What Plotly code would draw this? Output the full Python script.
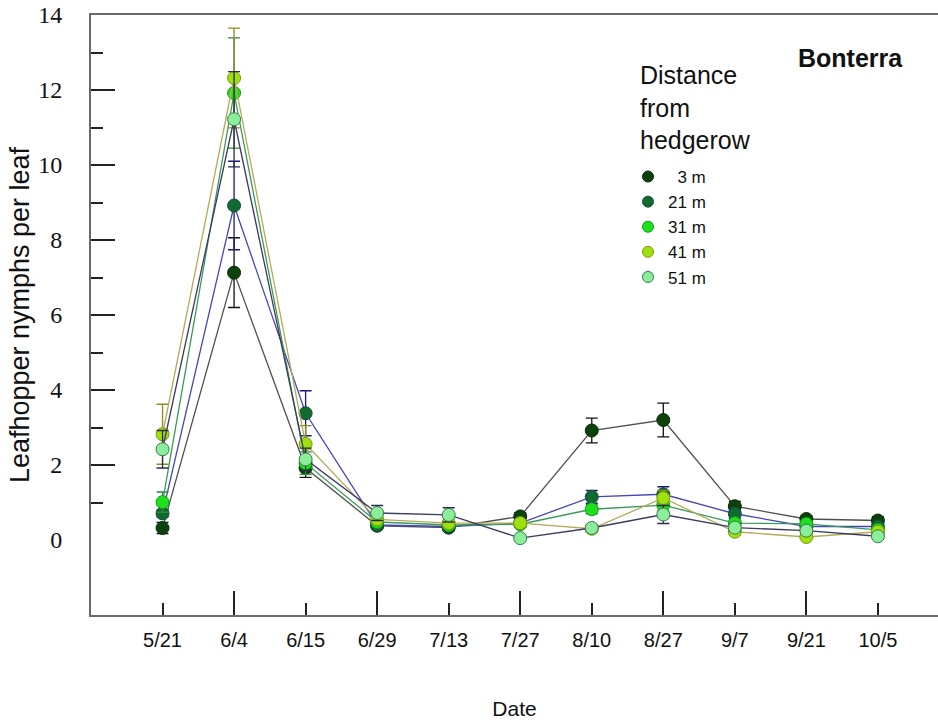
import plotly.graph_objects as go

# Sampling dates (categorical positions along the x axis)
dates = ["5/21", "6/4", "6/15", "6/29", "7/13", "7/27", "8/10", "8/27", "9/7", "9/21", "10/5"]
positions = list(range(len(dates)))

# Mean leafhopper nymphs per leaf at each distance from the hedgerow
names = ["\u00a0\u00a03 m", "21 m", "31 m", "41 m", "51 m"]
mean_3m = [0.32, 7.13, 1.92, 0.38, 0.33, 0.63, 2.92, 3.20, 0.90, 0.56, 0.52]
mean_21m = [0.71, 8.92, 3.38, 0.40, 0.36, 0.45, 1.15, 1.22, 0.70, 0.36, 0.36]
mean_31m = [1.01, 11.92, 2.05, 0.48, 0.40, 0.42, 0.82, 0.93, 0.45, 0.43, 0.27]
mean_41m = [2.82, 12.32, 2.56, 0.55, 0.45, 0.45, 0.30, 1.12, 0.22, 0.08, 0.22]
mean_51m = [2.42, 11.22, 2.15, 0.72, 0.67, 0.05, 0.32, 0.68, 0.33, 0.25, 0.10]

# Standard errors
se_3m = [0.15, 0.93, 0.25, 0.08, 0.08, 0.10, 0.33, 0.45, 0.13, 0.08, 0.10]
se_21m = [0.10, 1.18, 0.60, 0.08, 0.08, 0.08, 0.17, 0.20, 0.12, 0.08, 0.08]
se_31m = [0.27, 1.47, 0.30, 0.08, 0.08, 0.08, 0.12, 0.15, 0.08, 0.08, 0.08]
se_41m = [0.80, 1.33, 0.49, 0.10, 0.08, 0.08, 0.08, 0.20, 0.08, 0.05, 0.08]
se_51m = [0.50, 1.27, 0.30, 0.20, 0.19, 0.05, 0.08, 0.24, 0.10, 0.08, 0.08]

means = [mean_3m, mean_21m, mean_31m, mean_41m, mean_51m]
errors = [se_3m, se_21m, se_31m, se_41m, se_51m]

# Styling per series: marker fill, marker edge, connecting line, error bar
fills = ["#0b420b", "#106b30", "#1fe01f", "#9fe010", "#8aee9a"]
edges = ["#0a2a0a", "#1a4a3a", "#169a16", "#7a9a10", "#3a7a4a"]
line_colors = ["#505050", "#4646b8", "#3a9a5a", "#b4aa58", "#3a3a62"]
err_colors = ["#111111", "#1a1a7a", "#2a8a3a", "#8c8c20", "#2a2a4a"]

y_labels = [0, 2, 4, 6, 8, 10, 12, 14]
x_range = [-1, 10.84]
y_range = [-2, 14]

fig = go.Figure()

for name, m, e, fc, ec, lc, erc in zip(names, means, errors, fills, edges, line_colors, err_colors):
    fig.add_trace(go.Scatter(
        x=positions, y=m, mode="lines+markers", name=name, showlegend=False,
        line=dict(color=lc, width=1.3),
        marker=dict(size=13, color=fc, line=dict(color=ec, width=1)),
        error_y=dict(type="data", array=e, visible=True, color=erc,
                     thickness=1.3, width=6),
    ))

# Marker-only entries for the legend
for name, fc, ec in zip(names, fills, edges):
    fig.add_trace(go.Scatter(
        x=[None], y=[None], mode="markers", name=name,
        marker=dict(size=11, color=fc, line=dict(color=ec, width=1)),
    ))

# Empty trace that carries the overlay axes used for the tick marks
fig.add_trace(go.Scatter(x=[], y=[], xaxis="x2", yaxis="y2",
                         showlegend=False, hoverinfo="skip"))

axis_line = "#6a6a6a"
tick_col = "#222222"
sans = "Liberation Sans, Arial, sans-serif"

fig.update_layout(
    width=938, height=728,
    margin=dict(l=91, r=0, t=15, b=113),
    paper_bgcolor="white", plot_bgcolor="white",
    font=dict(family=sans, color="#111111"),
    showlegend=True,
    legend=dict(
        x=0.634, xanchor="left", y=0.76, yanchor="top",
        font=dict(size=17, family=sans, color="#111111"),
        bgcolor="rgba(0,0,0,0)", itemsizing="trace", tracegroupgap=0,
    ),
    xaxis=dict(
        range=x_range, tickmode="array", tickvals=positions, ticktext=dates,
        ticks="", ticklabelstandoff=6,
        tickfont=dict(size=20, family=sans, color="#111111"),
        showgrid=False, zeroline=False,
        showline=True, linecolor=axis_line, linewidth=2, mirror=True,
        title=dict(text="Date", standoff=51,
                   font=dict(size=21, family=sans, color="#111111")),
    ),
    yaxis=dict(
        range=y_range, tickmode="array", tickvals=y_labels,
        ticktext=[str(v) for v in y_labels],
        ticks="", ticklabelstandoff=22,
        tickfont=dict(size=24, family="Liberation Serif, Times New Roman, serif", color="#111111"),
        showgrid=False, zeroline=False,
        showline=True, linecolor=axis_line, linewidth=2, mirror=False,
        title=dict(text="Leafhopper nymphs per leaf", standoff=1,
                   font=dict(size=27, family=sans, color="#111111")),
    ),
    xaxis2=dict(
        overlaying="x", anchor="y2", side="bottom", range=x_range,
        tickmode="array", tickvals=[1, 3, 5, 7, 9],
        ticks="inside", ticklen=24, tickwidth=1.5, tickcolor=tick_col,
        showticklabels=False, showgrid=False, zeroline=False, showline=False,
        minor=dict(tickmode="array", tickvals=[0, 2, 4, 6, 8, 10],
                   ticks="inside", ticklen=12, tickwidth=1.5, tickcolor=tick_col),
    ),
    yaxis2=dict(
        overlaying="y", anchor="x2", side="left", range=y_range,
        tickmode="array", tickvals=[2, 4, 6, 8, 10, 12],
        ticks="inside", ticklen=24, tickwidth=1.5, tickcolor=tick_col,
        showticklabels=False, showgrid=False, zeroline=False, showline=False,
        minor=dict(tickmode="array", tickvals=[1, 3, 5, 7, 9, 11, 13],
                   ticks="inside", ticklen=12, tickwidth=1.5, tickcolor=tick_col),
    ),
    annotations=[
        dict(text="<b>Bonterra</b>", x=0.961, xref="paper", y=0.928, yref="paper",
             xanchor="right", yanchor="middle", showarrow=False,
             font=dict(size=25, family=sans, color="#111111")),
        dict(text="Distance<br>from<br>hedgerow", x=0.6458, xref="paper", y=0.927, yref="paper",
             xanchor="left", yanchor="top", align="left", showarrow=False,
             font=dict(size=25, family=sans, color="#111111")),
    ],
)

fig.write_html("out.html")
